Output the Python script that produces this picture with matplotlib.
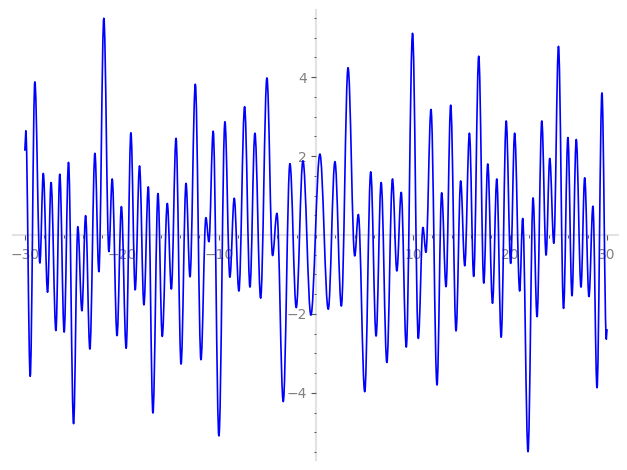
import matplotlib
matplotlib.use("Agg")
import matplotlib.pyplot as plt
from matplotlib.path import Path
from matplotlib.patches import PathPatch
from matplotlib.ticker import FixedLocator, MultipleLocator

# turning points of the curve (first/last are the ends)
xs = [-30.0, -29.9, -29.45, -28.97, -28.45, -28.1, -27.66, -27.3, -26.8, -26.4,
      -25.95, -25.5, -24.98, -24.54, -24.12, -23.74, -23.3, -22.78, -22.37, -21.86,
      -21.34, -21.0, -20.5, -20.05, -19.56, -19.07, -18.63, -18.18, -17.73, -17.28,
      -16.8, -16.28, -15.84, -15.32, -14.9, -14.42, -13.9, -13.39, -12.98, -12.43,
      -11.85, -11.34, -11.03, -10.59, -10.0, -9.38, -8.87, -8.42, -7.94, -7.35,
      -6.8, -6.29, -5.7, -5.05, -4.47, -4.02, -3.37, -2.68, -2.03, -1.34,
      -0.52, 0.41, 1.27, 1.96, 2.62, 3.31, 4.0, 4.37, 5.03, 5.65,
      6.2, 6.72, 7.31, 7.89, 8.34, 8.79, 9.31, 9.96, 10.55, 11.03,
      11.34, 11.86, 12.48, 12.96, 13.41, 13.89, 14.44, 14.92, 15.34, 15.82,
      16.26, 16.78, 17.3, 17.71, 18.2, 18.64, 19.09, 19.61, 20.07, 20.48,
      21.0, 21.31, 21.86, 22.38, 22.79, 23.28, 23.72, 24.1, 24.52, 25.0,
      25.52, 25.97, 26.39, 26.83, 27.32, 27.7, 28.14, 28.55, 28.97, 29.48,
      29.93, 30.0]
ys = [2.15, 2.64, -3.58, 3.88, -0.71, 1.56, -1.45, 1.33, -2.42, 1.54,
      -2.46, 1.84, -4.78, 0.21, -1.92, 0.49, -2.89, 2.07, -0.93, 5.49,
      -0.42, 1.42, -2.55, 0.72, -2.87, 2.59, -1.39, 1.75, -1.77, 1.22,
      -4.51, 1.05, -2.57, 0.8, -1.37, 2.45, -3.27, 1.31, -1.06, 3.82,
      -3.16, 0.44, -0.17, 2.63, -5.09, 2.87, -1.07, 0.93, -1.42, 3.25,
      -1.32, 2.58, -1.6, 3.98, -0.52, 0.55, -4.22, 1.81, -1.84, 1.88,
      -2.03, 2.05, -1.88, 1.86, -1.8, 4.24, -0.53, 0.52, -3.97, 1.6,
      -2.56, 1.33, -3.23, 1.42, -0.91, 1.08, -2.84, 5.11, -2.62, 0.19,
      -0.44, 3.18, -3.8, 1.07, -1.31, 3.29, -2.43, 1.37, -0.78, 2.58,
      -1.05, 4.53, -1.22, 1.8, -1.73, 1.42, -2.59, 2.89, -0.72, 2.58,
      -1.42, 0.42, -5.49, 0.94, -2.07, 2.89, -0.51, 1.94, -0.21, 4.78,
      -1.86, 2.47, -1.54, 2.42, -1.32, 1.45, -1.56, 0.73, -3.87, 3.6,
      -2.64, -2.4]

x_major = [-30, -20, -10, 10, 20, 30]
y_major = [-4, -2, 2, 4]

fig = plt.figure(figsize=(6.27, 4.70), dpi=100)
ax = fig.add_axes([0.0203, 0.0213, 0.9656, 0.9574])

# smooth path: flat tangents at every turning point
verts = [(xs[0], ys[0]), (xs[1], ys[1])]
codes = [Path.MOVETO, Path.LINETO]
k = 0.3642
for i in range(1, len(xs) - 2):
    x0, y0, x1, y1 = xs[i], ys[i], xs[i + 1], ys[i + 1]
    dx = x1 - x0
    verts += [(x0 + k * dx, y0), (x1 - k * dx, y1), (x1, y1)]
    codes += [Path.CURVE4] * 3
verts.append((xs[-1], ys[-1]))
codes.append(Path.LINETO)
ax.add_patch(PathPatch(Path(verts, codes), fill=False, edgecolor="#0000ff",
                       lw=1.2, joinstyle="round", capstyle="round", zorder=3))

ax.set_xlim(-31.25, 31.15)
ax.set_ylim(-5.7, 5.7)

for side in ["top", "right"]:
    ax.spines[side].set_visible(False)
for side in ["left", "bottom"]:
    ax.spines[side].set_position(("data", 0))
    ax.spines[side].set_color("#e3e3e3")
    ax.spines[side].set_linewidth(1.5)
    ax.spines[side].set_zorder(1)

ax.xaxis.set_major_locator(FixedLocator(x_major))
ax.yaxis.set_major_locator(FixedLocator(y_major))
ax.xaxis.set_minor_locator(MultipleLocator(2))
ax.yaxis.set_minor_locator(MultipleLocator(0.5))
ax.tick_params(which="major", length=3.5, width=0.8, color="#555555",
               labelcolor="#808080", labelsize=10)
ax.tick_params(which="minor", length=1.8, width=0.7, color="#555555")
ax.tick_params(axis="x", which="major", pad=6)
ax.tick_params(axis="y", which="major", pad=3)

fig.savefig("out.png", dpi=100)
